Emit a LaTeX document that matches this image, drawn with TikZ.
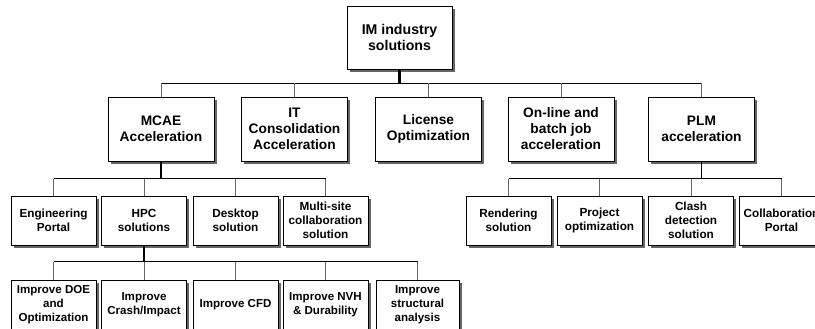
\documentclass[tikz,border=0pt]{standalone}
\usepackage{fontspec}
\setmainfont{Liberation Sans}
\usetikzlibrary{shadows}
\begin{document}
\begin{tikzpicture}[x=1bp, y=-1bp,
  box/.style={draw=black, line width=0.9bp, fill=white, align=center, inner sep=0pt,
    drop shadow={shadow xshift=2.6bp, shadow yshift=-2.6bp, fill=black!60, opacity=1}},
  topbox/.style={box, minimum width=105bp, minimum height=63bp,
    font=\fontsize{14.2}{15.5}\selectfont\bfseries},
  midbox/.style={box, minimum width=106bp, minimum height=64bp,
    font=\fontsize{13.8}{16}\selectfont\bfseries},
  lowbox/.style={box, minimum width=85bp, minimum height=49bp,
    font=\fontsize{11.8}{14}\selectfont\bfseries},
  leafbox/.style={lowbox, font=\fontsize{11.6}{14.2}\selectfont\bfseries},
  busline/.style={draw=black, line width=0.9bp},
  stem/.style={draw=black, line width=2.2bp},
  thinstem/.style={draw=black, line width=1.1bp},
  stub/.style={draw=black!60, line width=0.9bp}]
\useasboundingbox (0,0) rectangle (815,328);

% bus levels
\coordinate (b1) at (0,83);
\coordinate (b2) at (0,178.5);
\coordinate (b3) at (0,261.5);

% top level
\node[topbox] (root) at (399.5,37.5) {IM industry\\solutions};

% first level
\node[midbox] (mcae) at (161,129) {MCAE\\Acceleration};
\node[midbox] (itc)  at (294.5,129) {IT\\Consolidation\\Acceleration};
\node[midbox] (lic)  at (428.5,129) {License\\Optimization};
\node[midbox] (onl)  at (561,129) {On-line and\\batch job\\acceleration};
\node[midbox] (plm)  at (701.5,129) {PLM\\acceleration};

% second level under MCAE
\node[lowbox] (eng)   at (53.5,220.5) {Engineering\\Portal};
\node[lowbox] (hpc)   at (144,220.5) {HPC\\solutions};
\node[lowbox] (desk)  at (235.5,220.5) {Desktop\\solution};
\node[lowbox] (multi) at (325.5,220.5) {Multi-site\\collaboration\\solution};

% second level under PLM
\node[lowbox] (rend)   at (508.5,220.5) {Rendering\\solution};
\node[lowbox] (proj)   at (599.5,220.5) {Project\\optimization};
\node[lowbox] (clash)  at (691,220.5) {Clash\\detection\\solution};
\node[lowbox] (collab) at (781.5,220.5) {Collaboration\\Portal};

% third level under HPC
\node[leafbox] (doe)   at (53.5,304.5)  {Improve DOE\\and\\Optimization};
\node[leafbox] (crash) at (144,304.5)   {Improve\\Crash/Impact};
\node[leafbox] (cfd)   at (235.5,304.5) {Improve CFD};
\node[leafbox] (nvh)   at (325.5,304.5) {Improve NVH\\\& Durability};
\node[leafbox, minimum width=83bp] (struc) at (417.5,304.5) {Improve\\structural\\analysis};

% connectors: root to first level
\draw[stem] (root.south) -- (root.south |- b1);
\draw[busline] (mcae.north |- b1) -- (plm.north |- b1);
\foreach \n in {mcae,itc,lic,onl,plm}
  \draw[stub] (\n.north |- b1) -- (\n.north);

% MCAE to its children
\draw[thinstem] (mcae.south) -- (mcae.south |- b2);
\draw[busline] (eng.north |- b2) -- (multi.north |- b2);
\foreach \n in {eng,hpc,desk,multi}
  \draw[stub] (\n.north |- b2) -- (\n.north);

% PLM to its children
\draw[thinstem] (plm.south) -- (plm.south |- b2);
\draw[busline] (rend.north |- b2) -- (collab.north |- b2);
\foreach \n in {rend,proj,clash,collab}
  \draw[stub] (\n.north |- b2) -- (\n.north);

% HPC to its children
\draw[stem] (hpc.south) -- (hpc.south |- b3);
\draw[busline] (doe.north |- b3) -- (struc.north |- b3);
\foreach \n in {doe,crash,cfd,nvh,struc}
  \draw[stub] (\n.north |- b3) -- (\n.north);
\end{tikzpicture}
\end{document}
